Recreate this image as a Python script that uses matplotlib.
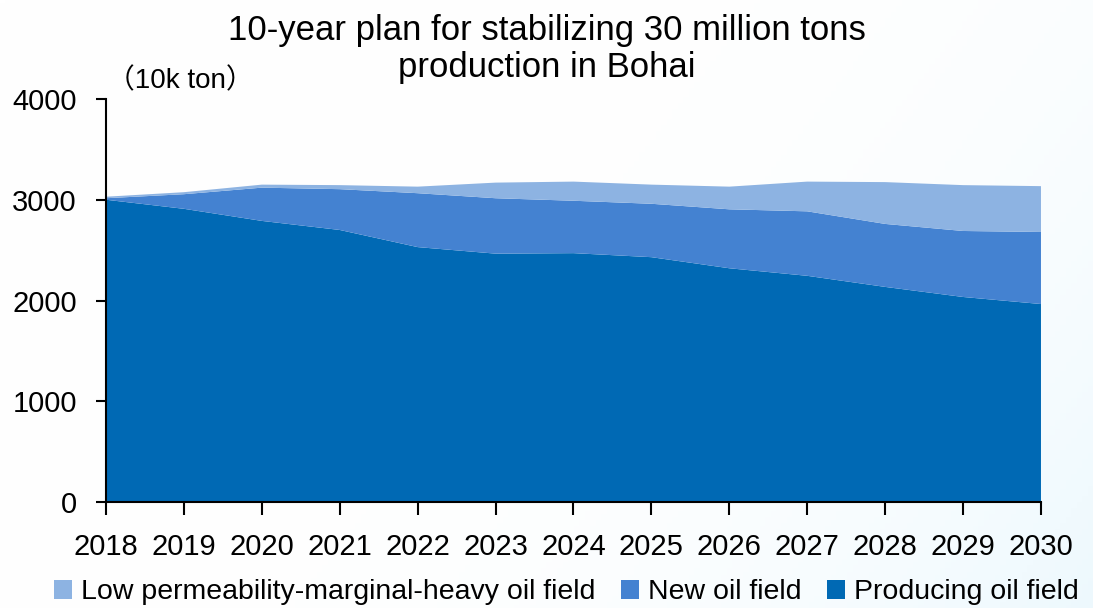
"""Bohai 10-year production plan, stacked area chart."""

import numpy
from matplotlib import pyplot

# Data (10k ton).
years = [2018, 2019, 2020, 2021, 2022, 2023, 2024,
         2025, 2026, 2027, 2028, 2029, 2030]
producing = [3000, 2910, 2790, 2700, 2530, 2465, 2470,
             2430, 2320, 2245, 2135, 2035, 1965]
new_field = [15, 145, 330, 405, 535, 550, 520,
             530, 585, 640, 625, 655, 715]
low_perm = [15, 20, 30, 40, 65, 155, 190,
            190, 225, 295, 415, 455, 455]

labels = ['Producing oil field', 'New oil field',
          'Low permeability-marginal-heavy oil field']
colors = ['#0069B4', '#4482D1', '#8DB3E2']

pyplot.rc('font', family=['Liberation Sans', 'Noto Sans CJK SC'], size=21)

fig = pyplot.figure(figsize=(10.93, 6.08), dpi=100)

# Faint light-blue wash in the background, as in the slide.
bg = fig.add_axes([0, 0, 1, 1], zorder=-10)
gx, gy = numpy.meshgrid(numpy.linspace(0, 1, 200), numpy.linspace(0, 1, 200))
wash = numpy.clip(gx * 0.7 + gy * 0.3, 0, 1) ** 4
img = numpy.ones((200, 200, 3))
img[..., 0] -= 0.07 * wash
img[..., 1] -= 0.025 * wash
img[..., 2] -= 0.005 * wash
bg.imshow(img, extent=(0, 1, 0, 1), aspect='auto', origin='upper')
bg.axis('off')

ax = fig.add_axes([0.097, 0.1743, 0.8554, 0.6629])
ax.stackplot(years, producing, new_field, low_perm,
             colors=colors, labels=labels, linewidth=0)
ax.set_xlim(2018, 2030)
ax.set_ylim(0, 4000)
ax.set_xticks(years)
ax.set_yticks([0, 1000, 2000, 3000, 4000])
ax.patch.set_alpha(0)
for side in ('top', 'right'):
    ax.spines[side].set_visible(False)
for side in ('left', 'bottom'):
    ax.spines[side].set_linewidth(1.5)
ax.tick_params(axis='x', direction='out', length=9, width=1.5, pad=13)
ax.tick_params(axis='y', direction='out', length=7, width=1.5, pad=14)

fig.text(0.5, 0.950, '10-year plan for stabilizing 30 million tons',
         ha='center', va='center', fontsize=25)
fig.text(0.5, 0.889, 'production in Bohai',
         ha='center', va='center', fontsize=25)
fig.text(0.098, 0.866, '（10k ton）', ha='left', va='center', fontsize=20)

handles, leg_labels = ax.get_legend_handles_labels()
fig.legend(handles[::-1], leg_labels[::-1], loc='center',
           bbox_to_anchor=(0.518, 0.026), ncol=3, frameon=False,
           fontsize=20.5, handlelength=0.65, handleheight=0.65,
           handletextpad=0.3, columnspacing=0.9, borderpad=0.1)

fig.savefig('out.png', dpi=100)
